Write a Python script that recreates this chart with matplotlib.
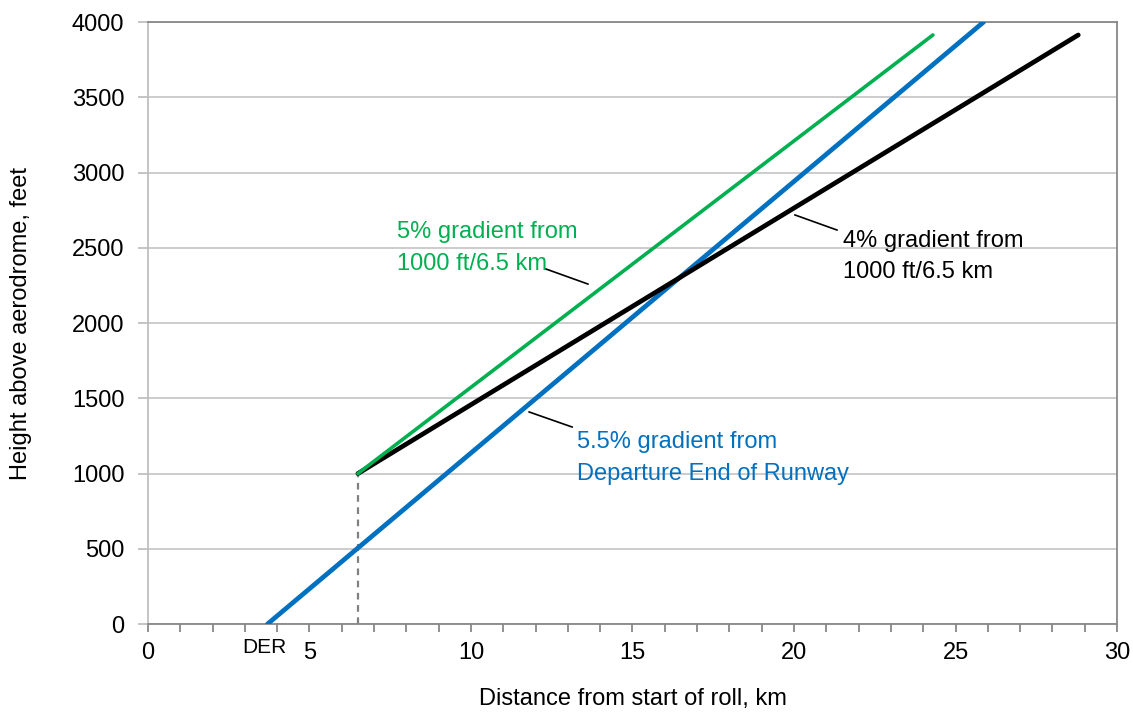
import matplotlib
matplotlib.use('Agg')
import matplotlib.pyplot as plt
from matplotlib.ticker import MultipleLocator
import matplotlib.transforms as mtransforms

plt.rcParams['font.family'] = ['Liberation Sans', 'DejaVu Sans']

# data (km, ft)
der_x = 3.7
turn_x = 6.5
turn_y = 1000

blue_x = [3.7, 25.87]    # 5.5% from DER
blue_y = [0, 4000]
green_x = [6.5, 24.3]    # 5% from 1000 ft / 6.5 km
green_y = [1000, 3914]
black_x = [6.5, 28.8]    # 4% from 1000 ft / 6.5 km
black_y = [1000, 3914]

x_ticks = [0, 5, 10, 15, 20, 25, 30]
y_ticks = [0, 500, 1000, 1500, 2000, 2500, 3000, 3500, 4000]

col_blue = '#0070C0'
col_green = '#00B050'

fig = plt.figure(figsize=(11.33, 7.13), dpi=100)
ax = fig.add_axes([0.1306, 0.1248, 0.8553, 0.8443])

ax.set_xlim(0, 30)
ax.set_ylim(0, 4000)
ax.set_xticks(x_ticks)
ax.xaxis.set_minor_locator(MultipleLocator(1))
ax.set_yticks(y_ticks)

ax.grid(axis='y', color='#BFBFBF', linewidth=1.1, zorder=0)
ax.set_axisbelow(True)

for s in ['top', 'right', 'bottom']:
    ax.spines[s].set_color('#888888')
    ax.spines[s].set_linewidth(1.3)
ax.spines['left'].set_color('#BFBFBF')
ax.spines['left'].set_linewidth(1.3)

ax.tick_params(axis='x', which='both', direction='out', length=6, width=1.3,
               color='#888888', labelsize=17, pad=7)
ax.tick_params(axis='y', direction='out', length=7, width=1.3,
               color='#BFBFBF', labelsize=17, pad=10)

# dashed marker at 6.5 km
ax.plot([turn_x, turn_x], [0, turn_y], color='#808080', linestyle=(0, (3, 2.5)),
        linewidth=1.6, zorder=2)

ax.plot(blue_x, blue_y, color=col_blue, linewidth=3.4, solid_capstyle='round', zorder=3)
ax.plot(black_x, black_y, color='black', linewidth=3.4, solid_capstyle='round', zorder=3)
ax.plot(green_x, green_y, color=col_green, linewidth=2.6, solid_capstyle='round', zorder=4)

# leader lines
ax.plot([12.32, 13.62], [2359, 2259], color='black', linewidth=1.2)
ax.plot([20.03, 21.33], [2718, 2618], color='black', linewidth=1.2)
ax.plot([11.80, 13.13], [1409, 1309], color='black', linewidth=1.2)

# labels
ax.text(7.71, 2565, '5% gradient from', color=col_green, fontsize=17, va='baseline')
ax.text(7.71, 2352, '1000 ft/6.5 km', color=col_green, fontsize=17, va='baseline')
ax.text(21.52, 2505, '4% gradient from', color='black', fontsize=17, va='baseline')
ax.text(21.52, 2299, '1000 ft/6.5 km', color='black', fontsize=17, va='baseline')
ax.text(13.28, 1169, '5.5% gradient from', color=col_blue, fontsize=17, va='baseline')
ax.text(13.28, 957, 'Departure End of Runway', color=col_blue, fontsize=17, va='baseline')

# DER label under the axis
trans = mtransforms.blended_transform_factory(ax.transData, ax.transAxes)
ax.text(der_x - 0.1, -0.023, 'DER', transform=trans, ha='center', va='top', fontsize=15)

ax.set_xlabel('Distance from start of roll, km', fontsize=17)
ax.set_ylabel('Height above aerodrome, feet', fontsize=17)
ax.xaxis.set_label_coords(0.5, -0.107)
ax.yaxis.set_label_coords(-0.12, 0.5)

fig.savefig('out.png', dpi=100)
